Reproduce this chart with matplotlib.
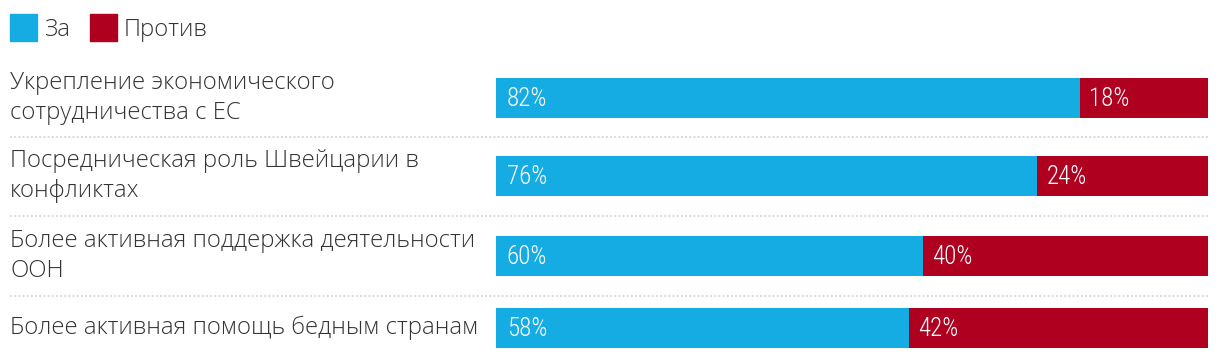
import matplotlib.pyplot as plt
from matplotlib import font_manager

# data
categories = [
    "Укрепление экономического\nсотрудничества с ЕС",
    "Посредническая роль Швейцарии в\nконфликтах",
    "Более активная поддержка деятельности\nООН",
    "Более активная помощь бедным странам",
]
za = [82, 76, 60, 58]
protiv = [18, 24, 40, 42]
series_names = ["За", "Против"]

BLUE = "#15abe3"
RED = "#b00020"
TEXT = "#333333"

names = {f.name for f in font_manager.fontManager.ttflist}
pct_family = "Roboto Condensed" if "Roboto Condensed" in names else "Roboto"

W, H = 1220, 358
fig = plt.figure(figsize=(W / 100, H / 100), dpi=100)

# bar area in pixel layout
x0, x1 = 496, 1208
row_y = [98, 176, 256, 328]
sep_y = [137, 216, 296]
bar_h = 40

ax = fig.add_axes([x0 / W, 0, (x1 - x0) / W, 1])
ax.set_xlim(0, 100)
ax.set_ylim(H, 0)
ax.axis("off")

ax.barh(row_y, za, height=bar_h, color=BLUE)
ax.barh(row_y, protiv, left=za, height=bar_h, color=RED)

pct_font = dict(family=pct_family, weight="light", size=18, color="white", va="center")
for y, a, b in zip(row_y, za, protiv):
    ax.text(1.5, y + 1, f"{a}%", **pct_font)
    ax.text(a + 1.3, y + 1, f"{b}%", **pct_font)

label_font = dict(family="Open Sans", weight="light", size=17.2, color=TEXT)
for y, cat in zip(row_y, categories):
    fig.text(10 / W, 1 - y / H, cat, va="center", ha="left", linespacing=1.3, **label_font)

for y in sep_y:
    fig.add_artist(plt.Line2D([10 / W, x1 / W], [1 - y / H, 1 - y / H],
                              color="#dcdcdc", lw=1.5, linestyle=(0, (1, 1))))

# legend
lx = 10
for name, col in zip(series_names, [BLUE, RED]):
    fig.add_artist(plt.Rectangle((lx / W, 1 - 41 / H), 27 / W, 27 / H, color=col,
                                 transform=fig.transFigure))
    fig.text((lx + 34) / W, 1 - 30 / H, name, va="center", ha="left", **label_font)
    lx += 80

fig.savefig("out.png", dpi=100)
